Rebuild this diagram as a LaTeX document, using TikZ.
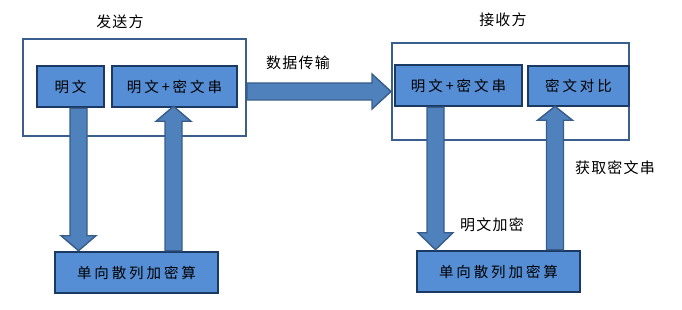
\documentclass[tikz,border=0pt]{standalone}
\usepackage{fontspec}
\newfontfamily\cjk{Noto Sans CJK SC}
\usetikzlibrary{calc}
\definecolor{boxfill}{HTML}{558ED5}
\definecolor{boxline}{HTML}{1B3A63}
\definecolor{arrfill}{HTML}{4F81BD}
\definecolor{arrline}{HTML}{385D8A}
\definecolor{outline}{HTML}{3A5F8F}
\tikzset{
  outerbox/.style={draw=outline,line width=2pt,fill=white,inner sep=0pt},
  inbox/.style={draw=boxline,line width=2.6pt,fill=boxfill,inner sep=0pt,
    font=\cjk\fontsize{14.5}{16}\selectfont\addfontfeature{LetterSpace=20}},
  lbl/.style={inner sep=0pt,font=\cjk\fontsize{15}{17}\selectfont\addfontfeature{LetterSpace=8}},
  barrow/.style={draw=arrline,line width=1.4pt,fill=arrfill,line join=miter}
}
% vertical block arrow: #1 start, #2 node giving tip y, #3 head length (+ down, - up)
\newcommand{\blkv}[3]{%
  \draw[barrow] let \p1=#1, \p2=#2 in
    (\x1-8.5pt,\y1) -- (\x1-8.5pt,\y2+#3pt) -- (\x1-17.5pt,\y2+#3pt) -- (\x1,\y2)
    -- (\x1+17.5pt,\y2+#3pt) -- (\x1+8.5pt,\y2+#3pt) -- (\x1+8.5pt,\y1) -- cycle;}
\begin{document}
\begin{tikzpicture}[x=1pt,y=-1pt]
\useasboundingbox (0,0) rectangle (682,310);
% sender
\node[outerbox,minimum width=223pt,minimum height=97pt] (sOuter) at (134.5,87.5) {};
\node[lbl] (sLbl) at (120,22) {发送方};
\node[inbox,minimum width=67pt,minimum height=41pt] (sMing) at (70.5,86.5) {明文};
\node[inbox,minimum width=125pt,minimum height=41pt] (sMix) at (174.5,86.5) {明文+密文串};
\node[inbox,minimum width=163pt,minimum height=41pt] (sHash) at (136.5,272.5) {单向散列加密算};
% receiver
\node[outerbox,minimum width=237pt,minimum height=97pt] (rOuter) at (510.5,91.5) {};
\node[lbl] (rLbl) at (503,20) {接收方};
\node[inbox,minimum width=127pt,minimum height=41pt] (rMix) at (458.5,85.5) {明文+密文串};
\node[inbox,minimum width=101pt,minimum height=40pt] (rCmp) at (578.5,86) {密文对比};
\node[inbox,minimum width=163pt,minimum height=41pt] (rHash) at (498.5,271.5) {单向散列加密算};
% labels
\node[lbl] (lTrans) at (298,63) {数据传输};
\node[lbl] (lEnc) at (492,225) {明文加密};
\node[lbl] (lGet) at (615,168) {获取密文串};
% arrows sender
\blkv{($(sMing.south)+(8,0)$)}{(sHash.north)}{15}
\blkv{($(sHash.north)+(37,0)$)}{($(sMix.south)+(0,-2)$)}{-15}
% arrows receiver
\blkv{($(rMix.south)+(-23,0)$)}{(rHash.north)}{17}
\blkv{($(rHash.north)+(56.5,0)$)}{($(rCmp.south)+(0,-1)$)}{-14}
% horizontal transfer arrow
\draw[barrow] let \p1=(sOuter.east), \p2=(rOuter.west) in
  (\x1,\y2+8.5pt) -- (\x2-19pt,\y2+8.5pt) -- (\x2-19pt,\y2+17.5pt) -- (\x2,\y2)
  -- (\x2-19pt,\y2-17.5pt) -- (\x2-19pt,\y2-8.5pt) -- (\x1,\y2-8.5pt) -- cycle;
\end{tikzpicture}
\end{document}
